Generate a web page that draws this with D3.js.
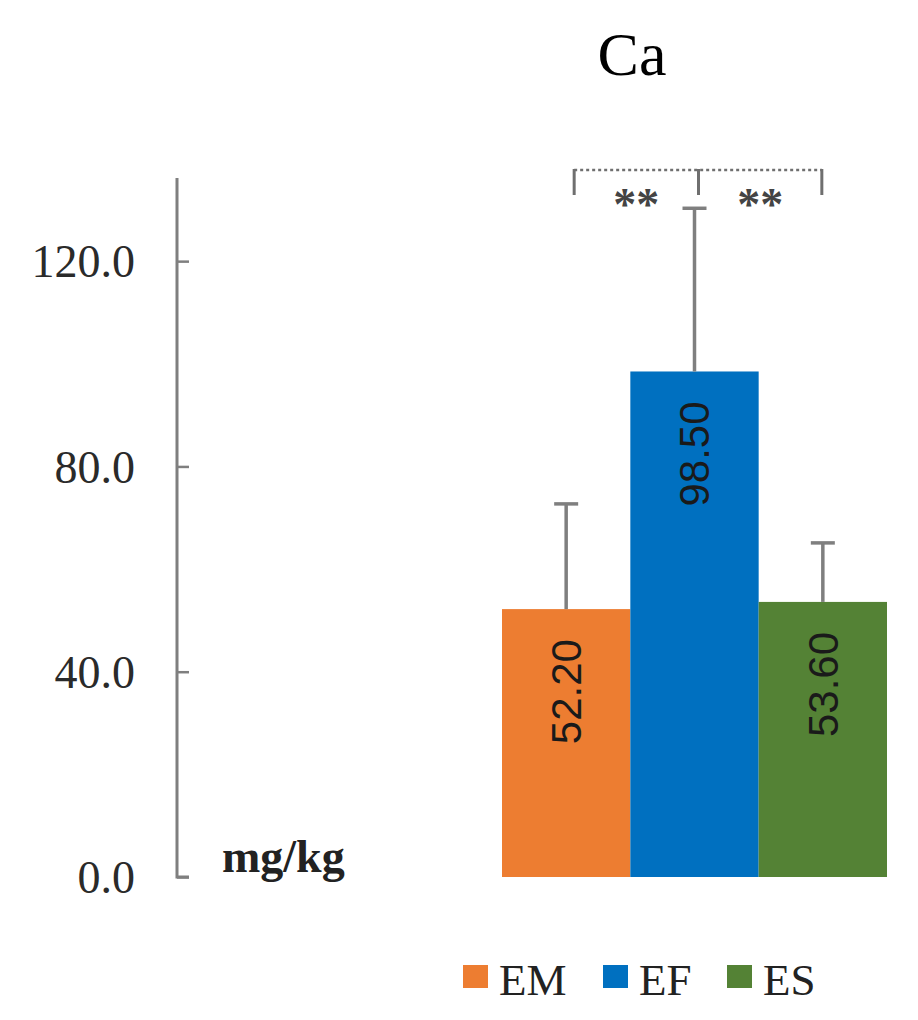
<!DOCTYPE html>
<html>
<head>
<meta charset="utf-8">
<script src="https://cdn.jsdelivr.net/npm/d3@7"></script>
<style>
  body { margin: 0; background: #fff; }
  svg { display: block; }
</style>
</head>
<body>
<div id="chart"></div>
<script>
// Ca content, mg/kg

const groups = ['EM', 'EF', 'ES'];
const means = [52.2, 98.5, 53.6];
const errors = [20.5, 31.8, 11.5];
const colors = ['#ED7D31', '#0070C0', '#548235'];
const yTicks = [0, 40, 80, 120];
// significance marks between neighbouring bars
const sigPairs = [['EM', 'EF', '**'], ['EF', 'ES', '**']];

const width = 918;
const height = 1020;
const serif = '"Liberation Serif", "Times New Roman", serif';

const svg = d3.select('#chart')
  .append('svg')
  .attr('width', width)
  .attr('height', height);

const x = d3.scaleBand()
  .domain(groups)
  .range([502, 887])
  .padding(0);

const y = d3.scaleLinear()
  .domain([0, 136.2])
  .range([877, 178]);

// title
svg.append('text')
  .attr('x', 632)
  .attr('y', 75)
  .attr('text-anchor', 'middle')
  .attr('font-family', serif)
  .attr('font-size', 62)
  .text('Ca');

// y axis, ticks pointing inward
const axis = svg.append('g')
  .attr('transform', 'translate(177,0)')
  .call(d3.axisRight(y)
    .tickValues(yTicks)
    .tickSize(12)
    .tickFormat(''));
axis.select('.domain')
  .attr('d', `M12,${y(0)}H0V${y.range()[1]}`)
  .attr('stroke', '#7f7f7f')
  .attr('stroke-width', 3);
axis.selectAll('.tick line')
  .attr('stroke', '#7f7f7f')
  .attr('stroke-width', 2.5);

svg.append('g')
  .selectAll('text')
  .data(yTicks)
  .enter().append('text')
  .attr('x', 135)
  .attr('y', d => y(d))
  .attr('dy', '0.35em')
  .attr('text-anchor', 'end')
  .attr('font-family', serif)
  .attr('font-size', 46)
  .attr('fill', '#2a2a2a')
  .text(d => d3.format('.1f')(d));

svg.append('text')
  .attr('x', 222)
  .attr('y', 872)
  .attr('font-family', serif)
  .attr('font-size', 46)
  .attr('font-weight', 'bold')
  .attr('fill', '#222')
  .text('mg/kg');

// bars
const data = groups.map((g, i) => ({ g, v: means[i], e: errors[i], c: colors[i] }));

svg.append('g')
  .selectAll('rect')
  .data(data)
  .enter().append('rect')
  .attr('x', d => x(d.g))
  .attr('y', d => y(d.v))
  .attr('width', x.bandwidth())
  .attr('height', d => y(0) - y(d.v))
  .attr('fill', d => d.c);

// error bars (upper only)
const eb = svg.append('g')
  .attr('stroke', '#7f7f7f')
  .attr('stroke-width', 3.5);
data.forEach(d => {
  const cx = x(d.g) + x.bandwidth() / 2;
  eb.append('line')
    .attr('x1', cx).attr('x2', cx)
    .attr('y1', y(d.v)).attr('y2', y(d.v + d.e));
  eb.append('line')
    .attr('x1', cx - 12).attr('x2', cx + 12)
    .attr('y1', y(d.v + d.e)).attr('y2', y(d.v + d.e));
});

// value labels, rotated, near the top inside each bar
svg.append('g')
  .selectAll('text')
  .data(data)
  .enter().append('text')
  .attr('transform', d => `translate(${x(d.g) + x.bandwidth() / 2},${y(d.v) + 30}) rotate(-90)`)
  .attr('text-anchor', 'end')
  .attr('dy', '0.35em')
  .attr('font-family', '"Liberation Sans", Arial, sans-serif')
  .attr('font-size', 42)
  .attr('fill', '#1a1a1a')
  .text(d => d3.format('.2f')(d.v));

// significance bracket
const bTop = 170;
const bBottom = 195;
const br = svg.append('g')
  .attr('stroke', '#6f6f6f')
  .attr('fill', 'none');
const cxOf = g => x(g) + x.bandwidth() / 2 + (g === 'EM' ? 8 : g === 'EF' ? 4 : -1);
const xs = groups.map(cxOf);
br.append('line')
  .attr('x1', xs[0]).attr('x2', xs[xs.length - 1])
  .attr('y1', bTop).attr('y2', bTop)
  .attr('stroke-width', 2.5)
  .attr('stroke-dasharray', '3,3');
xs.forEach(v => {
  br.append('line')
    .attr('x1', v).attr('x2', v)
    .attr('y1', bTop - 1).attr('y2', bBottom)
    .attr('stroke-width', 3);
});
svg.append('g')
  .selectAll('text')
  .data(sigPairs)
  .enter().append('text')
  .attr('x', d => (cxOf(d[0]) + cxOf(d[1])) / 2)
  .attr('y', 220)
  .attr('text-anchor', 'middle')
  .attr('font-family', serif)
  .attr('font-size', 46)
  .attr('font-weight', 'bold')
  .attr('fill', '#444')
  .text(d => d[2]);

// legend
const legendX = [463, 603, 727];
const lg = svg.append('g');
data.forEach((d, i) => {
  lg.append('rect')
    .attr('x', legendX[i])
    .attr('y', 965)
    .attr('width', 25)
    .attr('height', 23)
    .attr('fill', d.c);
  lg.append('text')
    .attr('x', legendX[i] + 36)
    .attr('y', 995)
    .attr('font-family', serif)
    .attr('font-size', 45)
    .attr('fill', '#222')
    .text(d.g);
});
</script>
</body>
</html>
